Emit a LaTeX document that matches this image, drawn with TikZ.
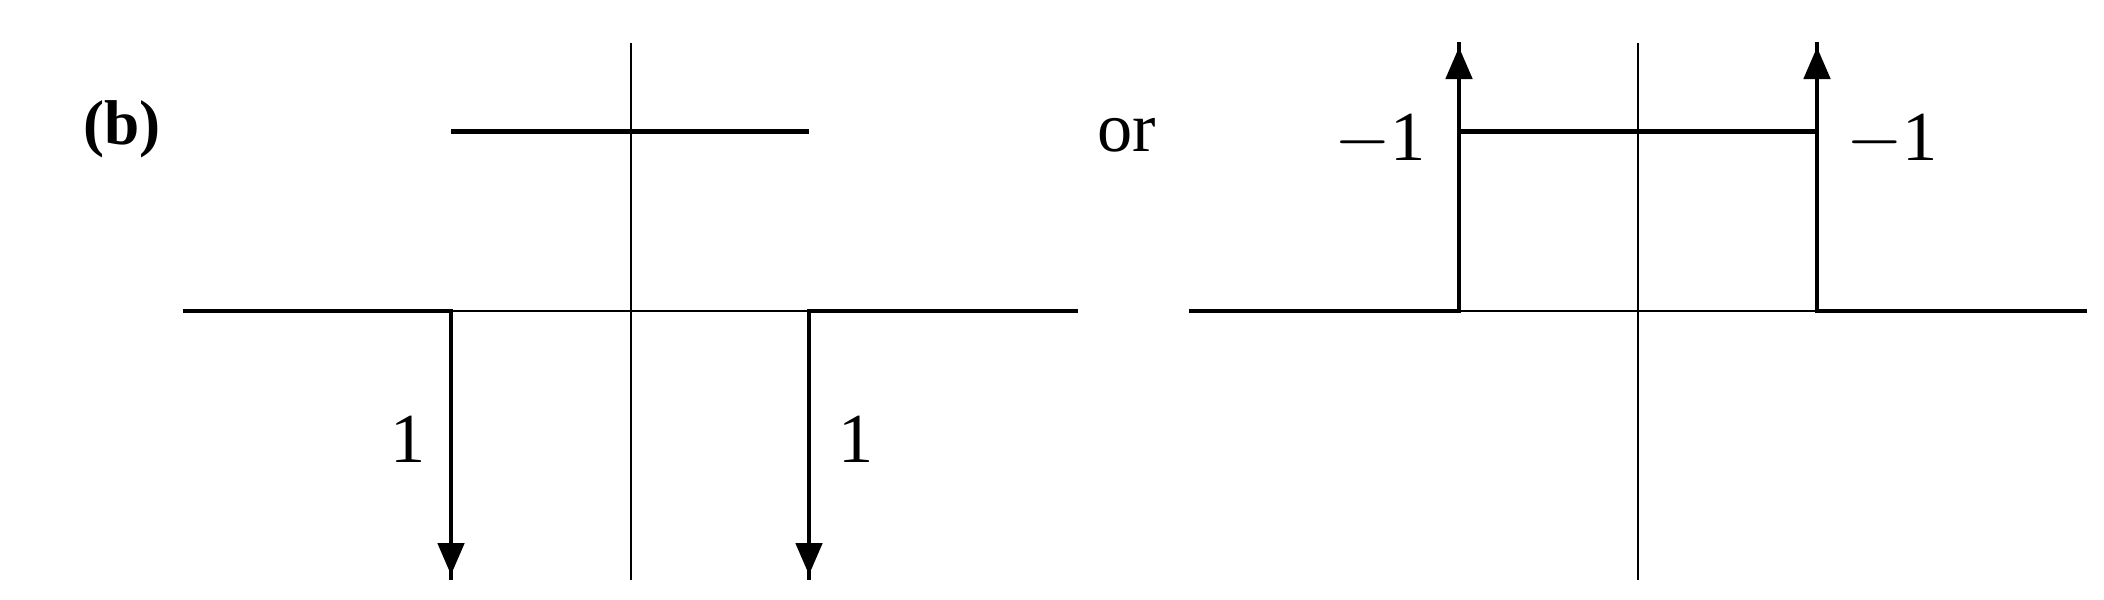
\documentclass[tikz,border=0pt]{standalone}
\usepackage{fontspec}
\setmainfont{Liberation Serif}
\usepackage{tikz}
\usetikzlibrary{arrows.meta, positioning, decorations.markings}
\tikzset{
  axis/.style={line width=0.6pt, color=black},
  curve/.style={line width=1.4pt, color=black},
  spike/.style={curve, postaction={decorate},
    decoration={markings, mark=at position -0.05cm with
      {\arrow{Triangle[length=0.32cm, width=0.26cm]}}}},
  lbl/.style={font=\fontsize{20}{24}\selectfont, inner sep=0pt}
}

\begin{document}
\begin{tikzpicture}
  \useasboundingbox (0,0) rectangle (21.04,5.99);

  % Left plot
  \coordinate (lo) at (6.31,2.88);
  \draw[axis] (6.31,0.19) -- (6.31,5.56);
  \draw[axis] (1.83,2.88) -- (10.78,2.88);
  \draw[curve] (4.51,4.675) -- (8.09,4.675);
  \draw[spike] (1.83,2.88) -- (4.51,2.88) -- (4.51,0.19);
  \draw[spike] (10.78,2.88) -- (8.09,2.88) -- (8.09,0.19);
  \node[lbl] (one-l) at (4.08,1.60) {1};
  \node[lbl] (one-r) at (8.56,1.60) {1};
  \node[lbl, font=\fontsize{18}{22}\selectfont\bfseries] (tag) at (1.22,4.70) {(b)};

  % Separator
  \node[lbl] (or) at (11.27,4.64) {or};

  % Right plot
  \coordinate (ro) at (16.38,2.88);
  \draw[axis] (16.38,0.19) -- (16.38,5.56);
  \draw[axis] (11.89,2.88) -- (20.87,2.88);
  \draw[curve] (14.59,4.675) -- (18.17,4.675);
  \draw[spike] (11.89,2.88) -- (14.59,2.88) -- (14.59,5.57);
  \draw[spike] (20.87,2.88) -- (18.17,2.88) -- (18.17,5.57);
  \node[lbl] (mone-l) at (13.80,4.59) {$-$1};
  \node[lbl] (mone-r) at (18.92,4.59) {$-$1};
\end{tikzpicture}
\end{document}
